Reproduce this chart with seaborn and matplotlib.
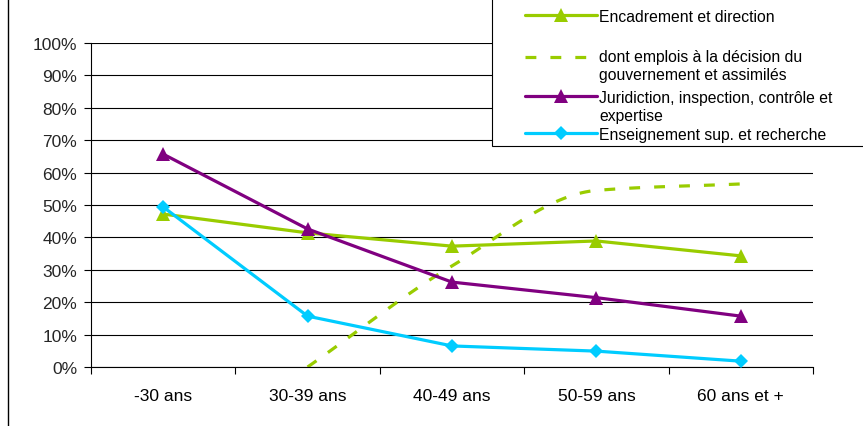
import numpy as np
import pandas as pd
import matplotlib
matplotlib.use("Agg")
import matplotlib.pyplot as plt
from matplotlib.lines import Line2D
from matplotlib.patches import Rectangle
import seaborn as sns

# Age brackets
categories = ["-30 ans", "30-39 ans", "40-49 ans", "50-59 ans", "60 ans et +"]

# Shares per age bracket (fraction of total)
encadrement = [0.472, 0.414, 0.373, 0.389, 0.343]
decision_gouv = [np.nan, 0.0, 0.312, 0.545, 0.565]
juridiction = [0.657, 0.426, 0.262, 0.214, 0.157]
enseignement = [0.494, 0.157, 0.065, 0.049, 0.018]

labels = [
    "Encadrement et direction",
    "dont emplois à la décision du\ngouvernement et assimilés",
    "Juridiction, inspection, contrôle et\nexpertise",
    "Enseignement sup. et recherche",
]
yticks = np.arange(0, 1.01, 0.1)
ytick_labels = [f"{int(round(v * 100))}%" for v in yticks]

GREEN = "#99CC00"
PURPLE = "#800080"
CYAN = "#00CCFF"

sns.set_theme(style="white")
plt.rcParams["font.family"] = ["Liberation Sans", "DejaVu Sans"]

fig = plt.figure(figsize=(8.63, 4.27), dpi=100)
W, H = 863, 427
ax = fig.add_axes([91 / W, 1 - 368 / H, (813 - 91) / W, (368 - 44) / H])

pos = np.arange(len(categories))


def smooth_curve(x, y, steps=40):
    """Monotone cubic (Fritsch-Carlson) smoothing through the points."""
    x = np.asarray(x, float)
    y = np.asarray(y, float)
    h = np.diff(x)
    d = np.diff(y) / h
    m = np.zeros_like(y)
    m[0], m[-1] = d[0], d[-1]
    for i in range(1, len(y) - 1):
        if d[i - 1] * d[i] <= 0:
            m[i] = 0.0
        else:
            w1 = 2 * h[i] + h[i - 1]
            w2 = h[i] + 2 * h[i - 1]
            m[i] = (w1 + w2) / (w1 / d[i - 1] + w2 / d[i])
    px, py = [], []
    for i in range(len(x) - 1):
        t = np.linspace(0, 1, steps, endpoint=(i == len(x) - 2))
        h00 = 2 * t ** 3 - 3 * t ** 2 + 1
        h10 = t ** 3 - 2 * t ** 2 + t
        h01 = -2 * t ** 3 + 3 * t ** 2
        h11 = t ** 3 - t ** 2
        px.extend(x[i] + t * h[i])
        py.extend(h00 * y[i] + h10 * h[i] * m[i] + h01 * y[i + 1]
                  + h11 * h[i] * m[i + 1])
    return np.array(px), np.array(py)


lw = 2.3
tri = dict(marker="^", markersize=10, markeredgewidth=0)
dia = dict(marker="D", markersize=7.5, markeredgewidth=0)
DASH = (3.4, 4.4)

# Grid lines
for v in yticks:
    ax.axhline(v, color="black", lw=0.8, zorder=0)

sns.lineplot(x=pos, y=encadrement, ax=ax, color=GREEN, lw=lw, **tri,
             estimator=None, sort=False, zorder=3)

mask = ~np.isnan(decision_gouv)
sx, sy = smooth_curve(pos[mask], np.array(decision_gouv)[mask])
sns.lineplot(x=sx, y=sy, ax=ax, color=GREEN, lw=lw, estimator=None,
             sort=False, dashes=False, zorder=2)
ax.lines[-1].set_dashes(DASH)
ax.lines[-1].set_dash_capstyle("butt")

sns.lineplot(x=pos, y=juridiction, ax=ax, color=PURPLE, lw=lw, **tri,
             estimator=None, sort=False, zorder=4)
sns.lineplot(x=pos, y=enseignement, ax=ax, color=CYAN, lw=lw, **dia,
             estimator=None, sort=False, zorder=5)

ax.set_xlim(-0.5, len(categories) - 0.5)
ax.set_ylim(0, 1)
ax.set_yticks(yticks)
ax.set_yticklabels(ytick_labels)
ax.set_xticks(pos)
ax.set_xticklabels(categories)
ax.set_xticks(np.arange(-0.5, len(categories)), minor=True)
ax.tick_params(axis="x", which="major", length=0, pad=15, labelsize=12.5,
               colors="black")
ax.tick_params(axis="x", which="minor", length=5, width=0.8, direction="out",
               color="black", bottom=True)
ax.tick_params(axis="y", which="major", length=5, width=0.8, direction="out",
               color="black", left=True, pad=5, labelsize=12.5)
for s in ["top", "right"]:
    ax.spines[s].set_visible(False)
for s in ["left", "bottom"]:
    ax.spines[s].set_color("black")
    ax.spines[s].set_linewidth(0.8)
ax.set_xlabel("")
ax.set_ylabel("")
ax.grid(False)

# Outer frame edge on the left
fig.add_artist(Line2D([8 / W, 8 / W], [0, 1], transform=fig.transFigure,
                      color="black", lw=1.0))

# Legend box
fig.add_artist(Rectangle((492 / W, 1 - 147 / H), 420 / W, 180 / H,
                         transform=fig.transFigure, facecolor="white",
                         edgecolor="black", lw=0.8, zorder=10))

entries = [
    (16, 16, GREEN, "-", "^", labels[0]),
    (58, 56, GREEN, "--", None, labels[1]),
    (97, 97, PURPLE, "-", "^", labels[2]),
    (134, 134, CYAN, "-", "D", labels[3]),
]
x0, x1 = 525, 597
for ly, ty, col, ls, mk, lab in entries:
    yy = 1 - ly / H
    line = Line2D([x0 / W, x1 / W], [yy, yy], transform=fig.transFigure,
                  color=col, lw=lw, zorder=11)
    if ls == "--":
        line.set_dashes(DASH)
        line.set_dash_capstyle("butt")
    fig.add_artist(line)
    if mk:
        ms = 10 if mk == "^" else 7.5
        fig.add_artist(Line2D([(x0 + x1) / 2 / W], [yy],
                              transform=fig.transFigure, color=col,
                              marker=mk, markersize=ms, markeredgewidth=0,
                              lw=0, zorder=12))
    fig.text(599 / W, 1 - (ty - 6) / H, lab, transform=fig.transFigure,
             ha="left", va="top", fontsize=11.3, color="black",
             linespacing=1.25, zorder=12)

fig.savefig("out.png", dpi=100, facecolor="white")
